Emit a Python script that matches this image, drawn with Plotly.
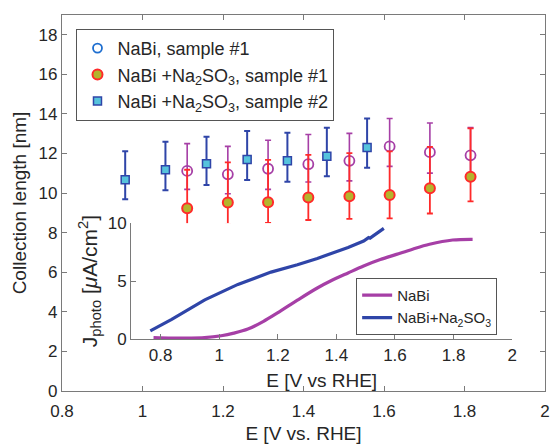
import plotly.graph_objects as go

# ---- main plot data: collection length vs potential ----
E_nabi1 = [1.111, 1.212, 1.312, 1.412, 1.514, 1.614, 1.714, 1.815]
L_nabi1 = [11.12, 10.95, 11.23, 11.46, 11.63, 12.36, 12.07, 11.91]
Lup_nabi1 = [1.38, 1.41, 1.44, 1.50, 1.39, 1.41, 1.47, 1.40]
Ldn_nabi1 = [0.93, 0.98, 1.04, 0.90, 1.01, 1.01, 1.06, 1.00]

E_sulf1 = [1.111, 1.212, 1.312, 1.412, 1.514, 1.614, 1.714, 1.815]
L_sulf1 = [9.23, 9.53, 9.54, 9.78, 9.84, 9.91, 10.24, 10.83]
Lup_sulf1 = [1.95, 2.02, 2.14, 2.15, 2.18, 2.20, 2.10, 2.44]
Ldn_sulf1 = [1.04, 1.11, 1.04, 1.14, 1.14, 1.19, 1.27, 1.25]

E_sulf2 = [0.957, 1.057, 1.159, 1.260, 1.360, 1.458, 1.558]
L_sulf2 = [10.67, 11.18, 11.48, 11.70, 11.63, 11.86, 12.31]
Lup_sulf2 = [1.44, 1.41, 1.37, 1.44, 1.42, 1.44, 1.46]
Ldn_sulf2 = [0.98, 1.04, 1.07, 1.04, 1.06, 1.01, 1.03]

# ---- inset data: photocurrent vs potential ----
E_j_nabi = [0.776, 0.84, 0.895, 0.95, 1.007, 1.05, 1.098, 1.15, 1.199, 1.267,
            1.335, 1.38, 1.44, 1.493, 1.55, 1.605, 1.66, 1.718, 1.797, 1.865]
J_nabi = [0.12, 0.08, 0.08, 0.12, 0.28, 0.50, 0.85, 1.50, 2.25, 3.35,
          4.40, 5.00, 5.70, 6.30, 6.85, 7.30, 7.75, 8.17, 8.54, 8.60]

E_j_sulf = [0.765, 0.838, 0.951, 1.064, 1.177, 1.222, 1.267, 1.335, 1.38, 1.44,
            1.493, 1.51, 1.515, 1.53, 1.545, 1.562]
J_sulf = [0.70, 1.69, 3.38, 4.71, 5.77, 6.05, 6.40, 6.95, 7.35, 7.90,
          8.45, 8.75, 8.70, 8.95, 9.25, 9.55]

main_xticks = [0.8, 1.0, 1.2, 1.4, 1.6, 1.8, 2.0]
main_xticktext = ["0.8", "1", "1.2", "1.4", "1.6", "1.8", "2"]
main_yticks = [0, 2, 4, 6, 8, 10, 12, 14, 16, 18]
inset_xticks = [0.8, 1.0, 1.2, 1.4, 1.6, 1.8, 2.0]
inset_xticktext = ["0.8", "1", "1.2", "1.4", "1.6", "1.8", "2"]
inset_yticks = [0, 5, 10]

FONT = "Liberation Sans, Arial, sans-serif"
MAG = "#a63fa6"
RED = "#ff2a2a"
BLUE = "#2f45a8"
OLIVE = "#b4b42c"
CYAN = "#56c3dc"
AX = "#7a7a7a"
TXT = "#262626"

fig = go.Figure()

# data traces (not in legend)
fig.add_trace(go.Scatter(
    x=E_nabi1, y=L_nabi1, mode="markers", showlegend=False,
    marker=dict(symbol="circle-open", size=10, color=MAG, line=dict(width=1.8, color=MAG)),
    error_y=dict(type="data", symmetric=False, array=Lup_nabi1, arrayminus=Ldn_nabi1,
                 color=MAG, thickness=1.6, width=3),
))
fig.add_trace(go.Scatter(
    x=E_sulf1, y=L_sulf1, mode="markers", showlegend=False,
    marker=dict(symbol="circle", size=10, color=OLIVE, line=dict(width=2, color=RED)),
    error_y=dict(type="data", symmetric=False, array=Lup_sulf1, arrayminus=Ldn_sulf1,
                 color=RED, thickness=1.8, width=3),
))
fig.add_trace(go.Scatter(
    x=E_sulf2, y=L_sulf2, mode="markers", showlegend=False,
    marker=dict(symbol="square", size=8, color=CYAN, line=dict(width=1.5, color=BLUE)),
    error_y=dict(type="data", symmetric=False, array=Lup_sulf2, arrayminus=Ldn_sulf2,
                 color=BLUE, thickness=2, width=3),
))

# legend entries (main legend)
fig.add_trace(go.Scatter(x=[None], y=[None], mode="markers", name="NaBi, sample #1",
    marker=dict(symbol="circle-open", size=9, color="#1f6fd0", line=dict(width=1.8, color="#1f6fd0"))))
fig.add_trace(go.Scatter(x=[None], y=[None], mode="markers",
    name="NaBi +Na<sub>2</sub>SO<sub>3</sub>, sample #1",
    marker=dict(symbol="circle", size=10, color=OLIVE, line=dict(width=2, color=RED))))
fig.add_trace(go.Scatter(x=[None], y=[None], mode="markers",
    name="NaBi +Na<sub>2</sub>SO<sub>3</sub>, sample #2",
    marker=dict(symbol="square", size=8, color=CYAN, line=dict(width=1.5, color=BLUE))))

# inset curves
fig.add_trace(go.Scatter(x=E_j_nabi, y=J_nabi, mode="lines", name="NaBi",
    line=dict(color=MAG, width=3.2, shape="spline"), xaxis="x2", yaxis="y2", legend="legend2"))
fig.add_trace(go.Scatter(x=E_j_sulf, y=J_sulf, mode="lines", name="NaBi+Na<sub>2</sub>SO<sub>3</sub>",
    line=dict(color=BLUE, width=3.2), xaxis="x2", yaxis="y2", legend="legend2"))

fig.update_layout(
    width=556, height=447,
    margin=dict(l=62, r=6, t=10, b=54),
    paper_bgcolor="white", plot_bgcolor="white",
    font=dict(family=FONT, color=TXT, size=16),
    xaxis=dict(
        domain=[0, 1], range=[0.8, 2.0], tickvals=main_xticks, ticktext=main_xticktext,
        showline=True, linecolor=AX, linewidth=1.3, mirror="ticks",
        ticks="inside", ticklen=5, tickcolor=AX, showgrid=False, zeroline=False,
        tickfont=dict(size=17), ticklabelstandoff=4,
        title=dict(text="E [V vs. RHE]", font=dict(size=19), standoff=7),
    ),
    yaxis=dict(
        domain=[0, 1], range=[0, 19], tickvals=main_yticks,
        showline=True, linecolor=AX, linewidth=1.3, mirror="ticks",
        ticks="inside", ticklen=5, tickcolor=AX, showgrid=False, zeroline=False,
        tickfont=dict(size=17),
        title=dict(text="Collection length [nm]", font=dict(size=19), standoff=6),
    ),
    xaxis2=dict(
        domain=[0.1434, 0.932], range=[0.7, 2.0], anchor="y2",
        tickvals=inset_xticks, ticktext=inset_xticktext,
        showline=True, linecolor=AX, linewidth=1.3,
        ticks="inside", ticklen=5, tickcolor=AX, showgrid=False, zeroline=False,
        tickfont=dict(size=17),
        title=dict(text="E [V vs RHE]", font=dict(size=19), standoff=10),
    ),
    yaxis2=dict(
        domain=[0.1384, 0.4465], range=[0, 10], anchor="x2",
        tickvals=inset_yticks,
        showline=True, linecolor=AX, linewidth=1.3,
        ticks="inside", ticklen=5, tickcolor=AX, showgrid=False, zeroline=False,
        tickfont=dict(size=17),
        title=dict(text="J<sub>photo</sub> [<i>μ</i>A/cm<sup>2</sup>]", font=dict(size=21), standoff=4),
    ),
    legend=dict(
        x=0.030, y=0.963, xanchor="left", yanchor="top",
        bgcolor="white", bordercolor="#555555", borderwidth=1,
        font=dict(size=18, color=TXT), tracegroupgap=0,
    ),
    legend2=dict(
        x=0.609, y=0.301, xanchor="left", yanchor="top",
        bgcolor="white", bordercolor="#555555", borderwidth=1,
        font=dict(size=15, color=TXT), tracegroupgap=0,
    ),
)

fig.write_html("out.html")
